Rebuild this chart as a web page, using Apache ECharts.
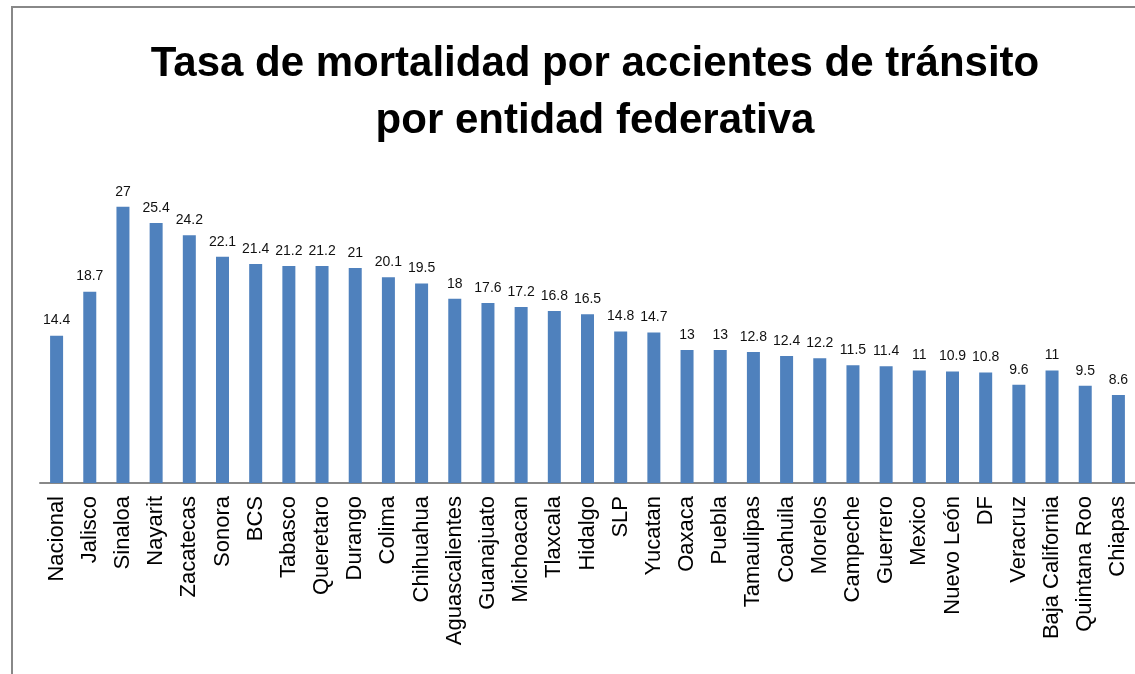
<!DOCTYPE html>
<html>
<head>
<meta charset="utf-8">
<script src="https://cdn.jsdelivr.net/npm/echarts@6/dist/echarts.min.js"></script>
<style>
  html, body { margin: 0; padding: 0; background: #fff; }
  #main { width: 1135px; height: 674px; }
</style>
</head>
<body>
<div id="main"></div>
<script>
var estados = ['Nacional', 'Jalisco', 'Sinaloa', 'Nayarit', 'Zacatecas', 'Sonora', 'BCS', 'Tabasco',
    'Queretaro', 'Durango', 'Colima', 'Chihuahua', 'Aguascalientes', 'Guanajuato', 'Michoacan',
    'Tlaxcala', 'Hidalgo', 'SLP', 'Yucatan', 'Oaxaca', 'Puebla', 'Tamaulipas', 'Coahuila', 'Morelos',
    'Campeche', 'Guerrero', 'Mexico', 'Nuevo León', 'DF', 'Veracruz', 'Baja California',
    'Quintana Roo', 'Chiapas'];
var tasas = [14.4, 18.7, 27, 25.4, 24.2, 22.1, 21.4, 21.2, 21.2, 21, 20.1, 19.5, 18, 17.6, 17.2,
    16.8, 16.5, 14.8, 14.7, 13, 13, 12.8, 12.4, 12.2, 11.5, 11.4, 11, 10.9, 10.8, 9.6, 11, 9.5, 8.6];
var titulo = 'Tasa de mortalidad por accientes de tránsito\npor entidad federativa';

var chart = echarts.init(document.getElementById('main'));
var option = {
    animation: false,
    title: {
        text: titulo,
        left: 590,
        top: 31,
        textAlign: 'center',
        textStyle: {
            fontFamily: 'Liberation Sans',
            fontWeight: 'bold',
            fontSize: 42,
            lineHeight: 57,
            color: '#000'
        }
    },
    graphic: [
        {
            type: 'polyline',
            shape: { points: [[12, 674], [12, 7], [1135, 7]] },
            style: { stroke: '#888', lineWidth: 2, fill: null }
        }
    ],
    grid: {
        left: 40,
        right: -2,
        top: 176,
        bottom: 191
    },
    xAxis: {
        type: 'category',
        data: estados,
        axisLine: { lineStyle: { color: '#888', width: 2 } },
        axisTick: { show: false },
        axisLabel: {
            rotate: 90,
            interval: 0,
            margin: 13,
            fontFamily: 'Liberation Sans',
            fontSize: 22,
            color: '#000'
        }
    },
    yAxis: {
        type: 'value',
        min: 0,
        max: 30,
        show: false
    },
    series: [
        {
            type: 'bar',
            data: tasas,
            barWidth: 13,
            itemStyle: { color: '#4F81BD' },
            label: {
                show: true,
                position: 'top',
                distance: 8,
                fontFamily: 'Liberation Sans',
                fontSize: 14,
                color: '#111'
            }
        }
    ]
};
chart.setOption(option);
</script>
</body>
</html>
